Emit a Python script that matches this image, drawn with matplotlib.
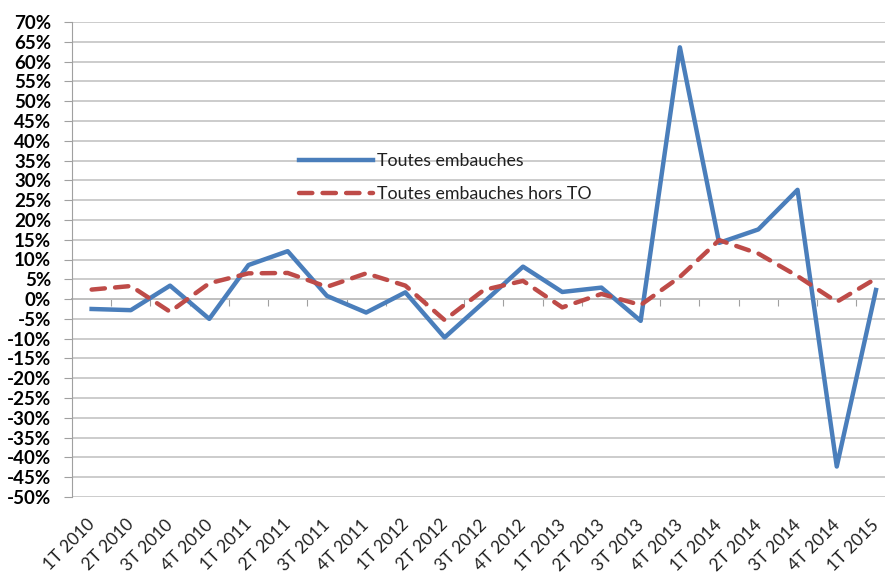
import numpy as np
import matplotlib
matplotlib.use("Agg")
from matplotlib import pyplot as plt
from matplotlib.ticker import MultipleLocator, FuncFormatter
from matplotlib.transforms import ScaledTranslation

# quarters
quarters = ["1T 2010", "2T 2010", "3T 2010", "4T 2010",
            "1T 2011", "2T 2011", "3T 2011", "4T 2011",
            "1T 2012", "2T 2012", "3T 2012", "4T 2012",
            "1T 2013", "2T 2013", "3T 2013", "4T 2013",
            "1T 2014", "2T 2014", "3T 2014", "4T 2014",
            "1T 2015"]

# growth rates in %
toutes = [-2.5, -2.8, 3.4, -5.0, 8.6, 12.1, 0.8, -3.4, 1.7, -9.7,
          -0.8, 8.2, 1.8, 2.9, -5.5, 63.6, 14.2, 17.6, 27.6, -42.3, 2.3]
hors_to = [2.4, 3.3, -3.2, 4.0, 6.5, 6.6, 3.1, 6.5, 3.4, -5.3,
           2.3, 4.6, -2.1, 1.3, -1.5, 5.6, 14.9, 11.5, 5.8, -0.7, 5.2]

label_toutes = "Toutes embauches"
label_hors = "Toutes embauches hors TO"

ymin, ymax = -50, 70

fig = plt.figure(figsize=(8.85, 5.74), dpi=100)
ax = fig.add_axes([72 / 885, 1 - 497 / 574, 1 - 72 / 885, (497 - 22) / 574])

x = np.arange(len(quarters))
ax.plot(x, toutes, color="#4a7ebb", lw=3.2, label=label_toutes, zorder=3)
ax.plot(x, hors_to, color="#be4b48", lw=3.2, dashes=(3.0, 2.3),
        dash_capstyle="round", label=label_hors, zorder=3)

ax.set_ylim(ymin, ymax)
ax.set_xlim(-0.5, len(quarters) - 1 + 0.23)
ax.yaxis.set_major_locator(MultipleLocator(5))
ax.yaxis.set_major_formatter(FuncFormatter(lambda v, p: f"{v:.0f}%"))
ax.grid(axis="y", color="#c4c4c4", lw=1.2)
ax.set_axisbelow(True)

for s in ["top", "right", "bottom"]:
    ax.spines[s].set_visible(False)
ax.spines["left"].set_color("#a0a0a0")
ax.tick_params(axis="y", length=6, color="#a0a0a0", pad=9)
for t in ax.get_yticklabels():
    t.set_fontfamily("Lato")
    t.set_fontweight("bold")
    t.set_fontsize(13.5)

ax.set_xticks(x)
ax.set_xticklabels(quarters, rotation=45, ha="right", rotation_mode="anchor",
                   fontfamily="Lato", fontsize=12.5, color="#202020")
ax.tick_params(axis="x", length=0, pad=14)
# nudge the rotated labels a little to the left
shift = ScaledTranslation(-5 / 100, 0, fig.dpi_scale_trans)
for t in ax.get_xticklabels():
    t.set_transform(t.get_transform() + shift)

# category axis crossing at 0
sec = ax.secondary_xaxis((0 - ymin) / (ymax - ymin))
sec.set_xticks(np.arange(len(quarters) - 1) + 0.5)
sec.set_xticklabels([])
sec.tick_params(axis="x", direction="out", length=5, color="#a0a0a0")
sec.spines["bottom"].set_color("#a0a0a0")
sec.spines["bottom"].set_linewidth(1.2)

leg = ax.legend(loc="center left", bbox_to_anchor=(0.279, 0.672), frameon=False,
                borderpad=0, borderaxespad=0, handlelength=4.2, handletextpad=0.2,
                labelspacing=0.95, prop={"family": "Lato", "size": 12.8})
for t in leg.get_texts():
    t.set_color("#202020")

fig.savefig("out.png", dpi=100)
